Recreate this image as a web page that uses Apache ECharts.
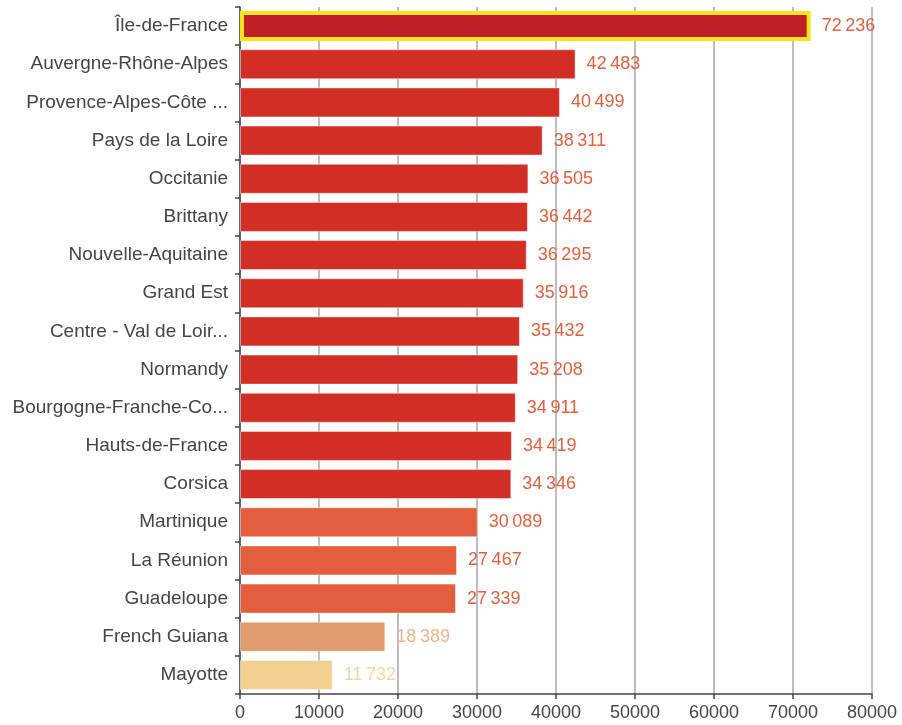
<!DOCTYPE html>
<html>
<head>
<meta charset="utf-8">
<script src="https://cdn.jsdelivr.net/npm/echarts@6/dist/echarts.min.js"></script>
<style>
  html, body { margin: 0; padding: 0; background: #fff; }
  #chart { width: 902px; height: 725px; }
</style>
</head>
<body>
<div id="chart"></div>
<script>
// regions, top to bottom as shown
const regions = [
  "Île-de-France", "Auvergne-Rhône-Alpes", "Provence-Alpes-Côte ...", "Pays de la Loire",
  "Occitanie", "Brittany", "Nouvelle-Aquitaine", "Grand Est", "Centre - Val de Loir...",
  "Normandy", "Bourgogne-Franche-Co...", "Hauts-de-France", "Corsica", "Martinique",
  "La Réunion", "Guadeloupe", "French Guiana", "Mayotte"
];
const values = [
  72236, 42483, 40499, 38311, 36505, 36442, 36295, 35916, 35432,
  35208, 34911, 34419, 34346, 30089, 27467, 27339, 18389, 11732
];
const xTicks = [0, 10000, 20000, 30000, 40000, 50000, 60000, 70000, 80000];
const highlighted = "Île-de-France";

// colour by value band
function barColor(v) {
  if (v >= 34000) return '#d12e26';
  if (v >= 25000) return '#e35e3c';
  if (v >= 15000) return '#e09c6c';
  return '#f1d08f';
}
function labelColor(v) {
  if (v >= 25000) return '#e2603e';
  if (v >= 15000) return '#f0b48a';
  return '#f3d69e';
}
function fmt(v) {
  return String(v).replace(/\B(?=(\d{3})+(?!\d))/g, '\u202f');
}

// category axis goes bottom-up, so reverse for display
const cats = regions.slice().reverse();
const vals = values.slice().reverse();

const chart = echarts.init(document.getElementById('chart'));
chart.setOption({
  animation: false,
  grid: { left: 240, right: 30, top: 7, bottom: 31, containLabel: false },
  xAxis: {
    type: 'value',
    min: xTicks[0],
    max: xTicks[xTicks.length - 1],
    interval: 10000,
    axisLine: { show: true, lineStyle: { color: '#444', width: 1.5 } },
    axisTick: { show: true, length: 5, lineStyle: { color: '#444', width: 1.5 } },
    axisLabel: {
      color: '#444', fontSize: 18, fontFamily: 'Liberation Sans', margin: 10,
      formatter: v => String(v)
    },
    splitLine: { show: true, lineStyle: { color: '#bdbdbd', width: 2 } }
  },
  yAxis: {
    type: 'category',
    data: cats,
    axisLine: { show: true, lineStyle: { color: '#444', width: 1.5 } },
    axisTick: { show: true, length: 5, lineStyle: { color: '#444', width: 1.5 } },
    axisLabel: { color: '#444', fontSize: 19, fontFamily: 'Liberation Sans', margin: 12 },
    splitLine: { show: false }
  },
  series: [{
    type: 'bar',
    barWidth: 30,
    data: vals.map((v, i) => {
      const hl = cats[i] === highlighted;
      return {
        value: v,
        itemStyle: {
          color: hl ? '#c01f27' : barColor(v),
          borderColor: hl ? '#f5e41c' : 'rgba(255,255,255,0.45)',
          borderWidth: hl ? 4 : 1
        },
        label: { color: labelColor(v) }
      };
    }),
    label: {
      show: true,
      position: 'right',
      distance: 11,
      fontSize: 18,
      fontFamily: 'Liberation Sans',
      formatter: p => fmt(p.value)
    }
  }]
});
</script>
</body>
</html>
